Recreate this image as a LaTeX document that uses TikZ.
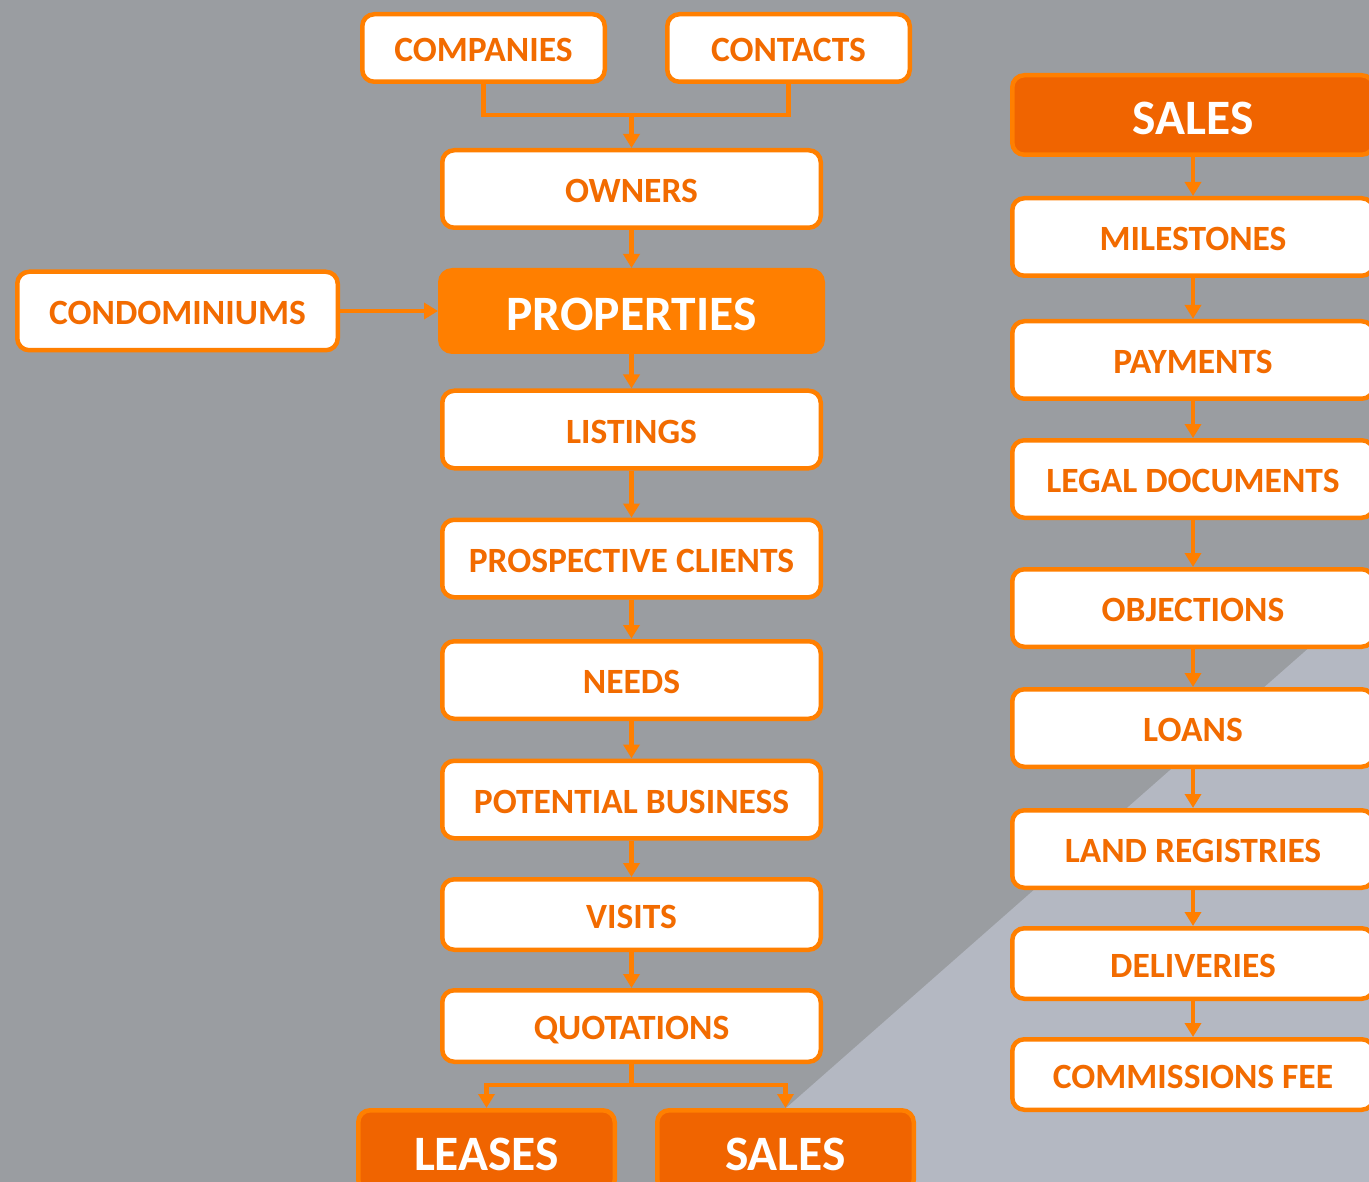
\documentclass[tikz,border=0pt]{standalone}
\usepackage{fontspec}
\setmainfont{Carlito}
\usepackage{tikz}
\usetikzlibrary{arrows.meta}
\definecolor{bggray}{HTML}{9A9DA1}
\definecolor{bglight}{HTML}{B4B8C2}
\definecolor{orangeline}{HTML}{FF7F00}
\definecolor{orangetext}{HTML}{F26B00}
\definecolor{orangedark}{HTML}{F06400}

\tikzset{
  box/.style = {draw = orangeline, line width = 4.5pt, fill = white, rounded corners = 12pt,
                text = orangetext, font = \fontsize{35.5}{42}\selectfont\bfseries,
                inner sep = 0pt, text height = 27pt, text depth = 0pt,
                minimum width = 378.5pt, minimum height = 77.5pt},
  headbox/.style = {box, fill = orangedark, text = white, font = \fontsize{49.5}{58}\selectfont\bfseries,
                    text height = 39pt, minimum height = 81.5pt},
  link/.style = {draw = orangeline, line width = 4.5pt},
  flow/.style = {link, arrows = {-Triangle[length = 14pt, width = 16pt]}},
}

\begin{document}
\begin{tikzpicture}[x = 1pt, y = -1pt]
            \useasboundingbox [fill = bggray] (0,0) rectangle (1369,1182);
            \fill [bglight] (702,1182) -- (1369,595) -- (1369,1182) -- cycle;

            % left column
            \node [box, minimum width = 242.5pt, minimum height = 67.5pt] (companies) at (483.5,48) {COMPANIES};
            \node [box, minimum width = 242.5pt, minimum height = 67.5pt] (contacts) at (788.5,48) {CONTACTS};
            \node [box] (owners) at (631.5,189) {OWNERS};
            \node [headbox, fill = orangeline, minimum width = 382.5pt] (properties) at (631.5,311) {PROPERTIES};
            \node [box, minimum width = 320.5pt, minimum height = 78.5pt] (condominiums) at (177.5,311) {CONDOMINIUMS};
            \node [box] (listings) at (631.5,429.5) {LISTINGS};
            \node [box] (prospective-clients) at (631.5,558.5) {PROSPECTIVE CLIENTS};
            \node [box] (needs) at (631.5,680) {NEEDS};
            \node [box] (potential-business) at (631.5,799.5) {POTENTIAL BUSINESS};
            \node [box, minimum height = 70.5pt] (visits) at (631.5,914.5) {VISITS};
            \node [box, minimum height = 71.5pt] (quotations) at (631.5,1026) {QUOTATIONS};
            \node [headbox, minimum width = 256.5pt] (leases) at (486.5,1151) {LEASES};
            \node [headbox, minimum width = 256.5pt] (sales-bottom) at (785.5,1151) {SALES};

            % right column
            \node [headbox, minimum width = 361.5pt, minimum height = 79.5pt] (sales-top) at (1193,115) {SALES};
            \node [box, minimum width = 361.5pt] (milestones) at (1193,237) {MILESTONES};
            \node [box, minimum width = 361.5pt] (payments) at (1193,360) {PAYMENTS};
            \node [box, minimum width = 361.5pt] (legal-documents) at (1193,479) {LEGAL DOCUMENTS};
            \node [box, minimum width = 361.5pt] (objections) at (1193,608) {OBJECTIONS};
            \node [box, minimum width = 361.5pt] (loans) at (1193,728) {LOANS};
            \node [box, minimum width = 361.5pt] (land-registries) at (1193,849) {LAND REGISTRIES};
            \node [box, minimum width = 361.5pt, minimum height = 70.5pt] (deliveries) at (1193,963.5) {DELIVERIES};
            \node [box, minimum width = 361.5pt, minimum height = 70.5pt] (commissions-fee) at (1193,1074.5) {COMMISSIONS FEE};

            % connectors
            \coordinate (top-joint) at (631.5,115);
            \coordinate (bottom-joint) at (631.5,1085);
            \draw [link] (companies.south) |- (top-joint) -| (contacts.south);
            \draw [flow] (top-joint) -- (owners.north);
            \draw [flow] (owners) -- (properties);
            \draw [flow] (condominiums) -- (properties);
            \draw [flow] (properties) -- (listings);
            \draw [flow] (listings) -- (prospective-clients);
            \draw [flow] (prospective-clients) -- (needs);
            \draw [flow] (needs) -- (potential-business);
            \draw [flow] (potential-business) -- (visits);
            \draw [flow] (visits) -- (quotations);
            \draw [link] (quotations.south) -- (bottom-joint);
            \draw [flow] (bottom-joint) -| (leases.north);
            \draw [flow] (bottom-joint) -| (sales-bottom.north);

            \draw [flow] (sales-top) -- (milestones);
            \draw [flow] (milestones) -- (payments);
            \draw [flow] (payments) -- (legal-documents);
            \draw [flow] (legal-documents) -- (objections);
            \draw [flow] (objections) -- (loans);
            \draw [flow] (loans) -- (land-registries);
            \draw [flow] (land-registries) -- (deliveries);
            \draw [flow] (deliveries) -- (commissions-fee);
\end{tikzpicture}
\end{document}
